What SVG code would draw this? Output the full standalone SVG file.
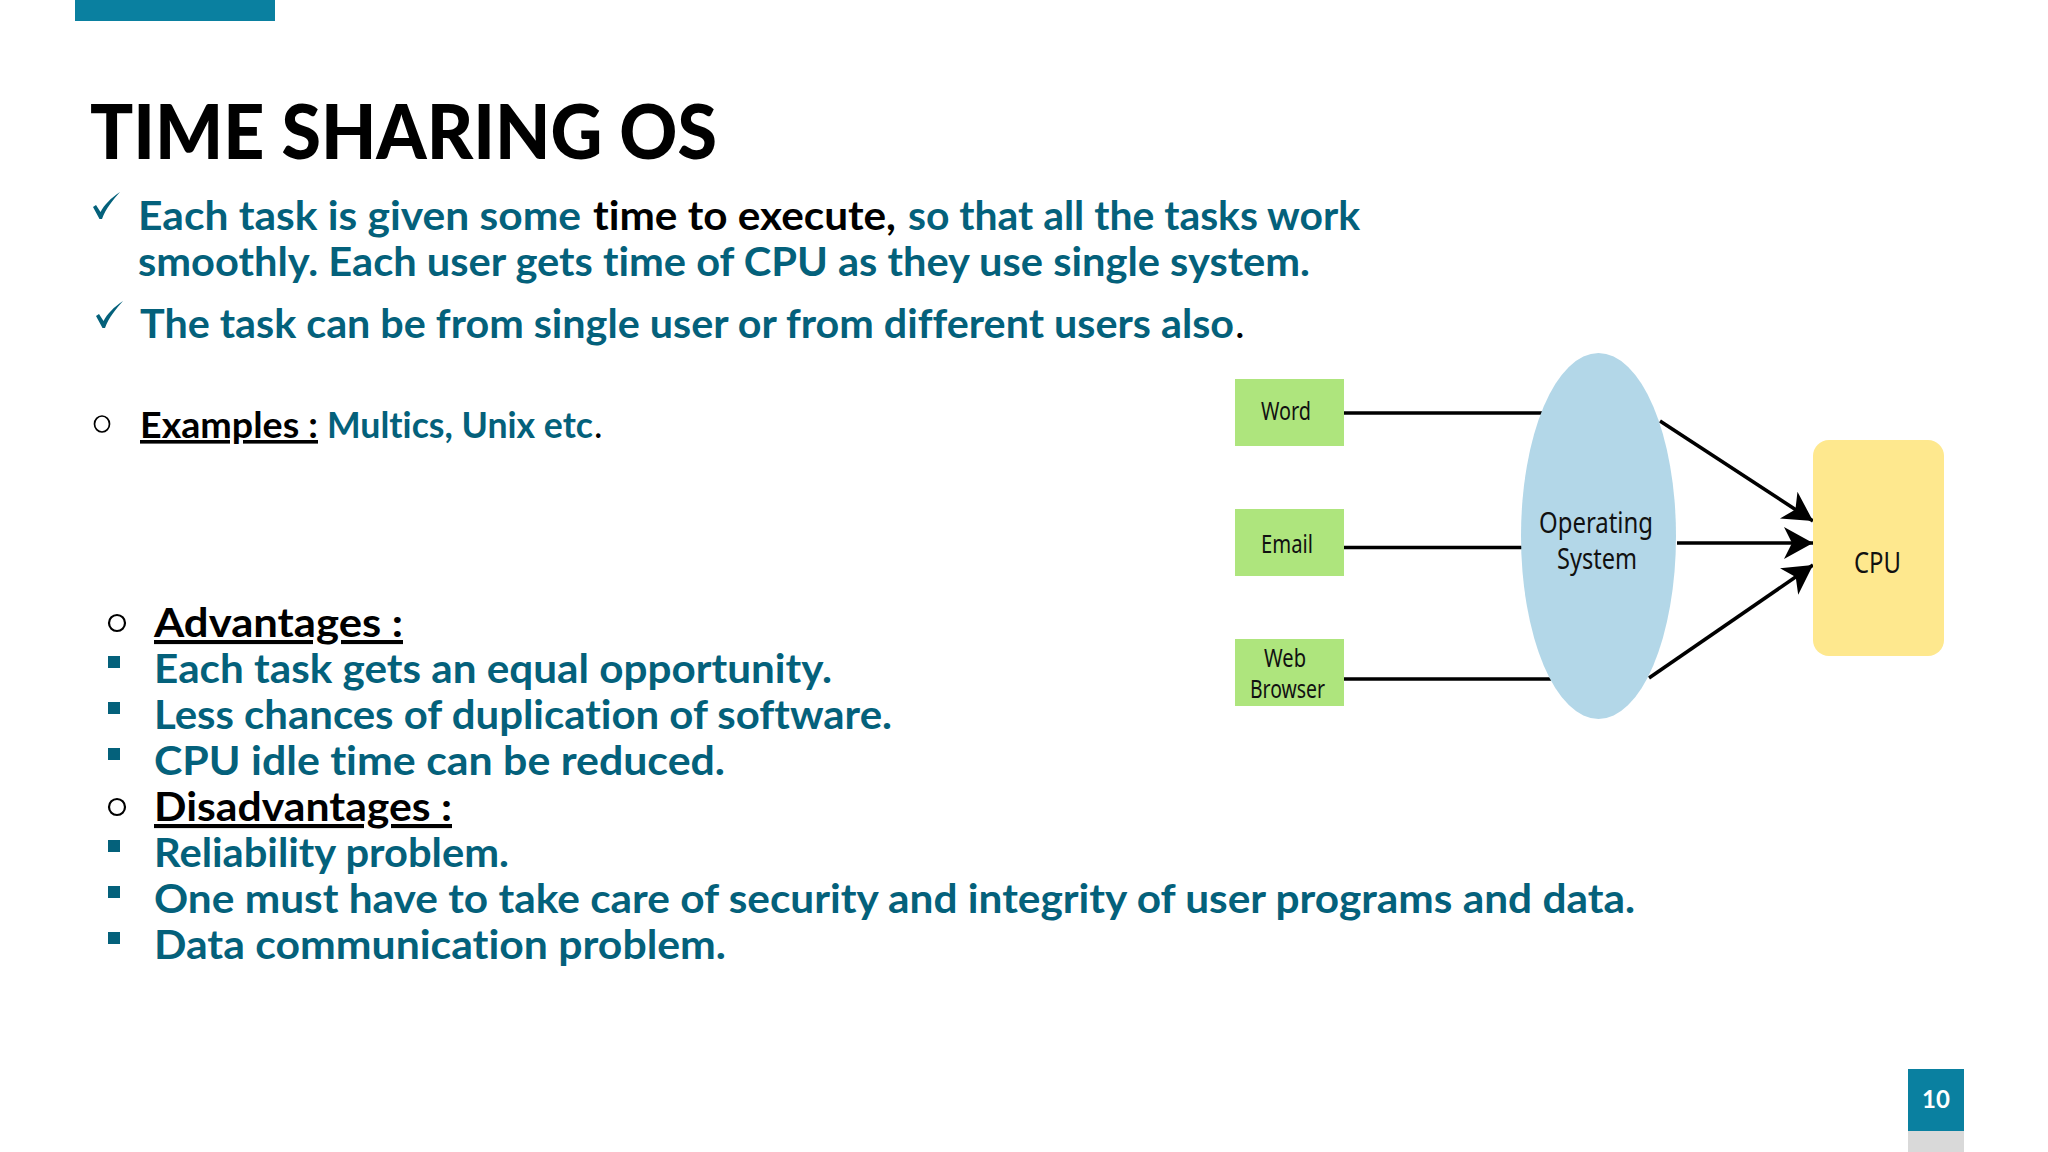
<svg xmlns="http://www.w3.org/2000/svg" width="2048" height="1152" viewBox="0 0 2048 1152">
<style>
text{font-family:"Lato","Liberation Sans",sans-serif;font-weight:700;fill:#04617b;font-variant-ligatures:none}
.k{fill:#000}
.u{text-decoration:underline}
.n{font-weight:400}
.b{font-size:41px}
.e{font-size:36px}
.d{font-family:"Noto Sans","Liberation Sans",sans-serif;font-weight:400;fill:#111;font-size:25px}
.l{font-size:29px}
.sq{fill:#04617b}
.ring{fill:none;stroke:#000;stroke-width:2.2}
.ln{stroke:#000;stroke-width:3.6;fill:none}
.box{fill:#aee57d}
</style>
<defs>
<marker id="ah" markerUnits="userSpaceOnUse" markerWidth="32" markerHeight="36" refX="29" refY="18" orient="auto">
<path d="M29,18 L0,2 L8,18 L0,34 Z" fill="#000"/>
</marker>
<path id="chk" d="M0,14 L3,12 L7.5,19 C11,12 18,5 27,-1 C20,7 13,15 9,26 L6.5,26 Z"/>
</defs>
<rect width="2048" height="1152" fill="#fff"/>
<rect x="75" y="0" width="200" height="21" fill="#0a80a0"/>
<text x="90" y="159" font-size="76" class="k" style="font-weight:900" textLength="627" lengthAdjust="spacingAndGlyphs">TIME SHARING OS</text>

<use href="#chk" x="93" y="193" fill="#04617b"/>
<text class="b" x="138" y="230" textLength="443" lengthAdjust="spacingAndGlyphs">Each task is given some</text>
<text class="b k" x="593" y="230" textLength="303" lengthAdjust="spacingAndGlyphs">time to execute,</text>
<text class="b" x="908" y="230" textLength="452" lengthAdjust="spacingAndGlyphs">so that all the tasks work</text>
<text class="b" x="138" y="276" textLength="1172" lengthAdjust="spacingAndGlyphs">smoothly. Each user gets time of CPU as they use single system.</text>
<use href="#chk" x="96" y="302" fill="#04617b"/>
<text class="b" x="140" y="338" textLength="1094" lengthAdjust="spacingAndGlyphs">The task can be from single user or from different users also</text>
<text class="b k n" x="1235" y="338">.</text>

<ellipse class="ring" style="stroke-width:1.7" cx="102" cy="424" rx="7.5" ry="8"/>
<text class="e k u" x="140" y="438" textLength="178" lengthAdjust="spacingAndGlyphs">Examples :</text>
<text class="e" x="327" y="438" textLength="266" lengthAdjust="spacingAndGlyphs">Multics, Unix etc</text>
<text class="e k n" x="594" y="438">.</text>

<circle class="ring" cx="117" cy="623" r="8"/>
<text class="b k u" x="154" y="637" textLength="249" lengthAdjust="spacingAndGlyphs">Advantages :</text>
<rect class="sq" x="108" y="656" width="12" height="12"/>
<text class="b" x="154" y="683" textLength="678" lengthAdjust="spacingAndGlyphs">Each task gets an equal opportunity.</text>
<rect class="sq" x="108" y="702" width="12" height="12"/>
<text class="b" x="154" y="729" textLength="738" lengthAdjust="spacingAndGlyphs">Less chances of duplication of software.</text>
<rect class="sq" x="108" y="748" width="12" height="12"/>
<text class="b" x="154" y="775" textLength="571" lengthAdjust="spacingAndGlyphs">CPU idle time can be reduced.</text>
<circle class="ring" cx="117" cy="807" r="8"/>
<text class="b k u" x="154" y="821" textLength="298" lengthAdjust="spacingAndGlyphs">Disadvantages :</text>
<rect class="sq" x="108" y="840" width="12" height="12"/>
<text class="b" x="154" y="867" textLength="355" lengthAdjust="spacingAndGlyphs">Reliability problem.</text>
<rect class="sq" x="108" y="886" width="12" height="12"/>
<text class="b" x="154" y="913" textLength="1481" lengthAdjust="spacingAndGlyphs">One must have to take care of security and integrity of user programs and data.</text>
<rect class="sq" x="108" y="932" width="12" height="12"/>
<text class="b" x="154" y="959" textLength="572" lengthAdjust="spacingAndGlyphs">Data communication problem.</text>

<g id="connectors">
<line class="ln" x1="1344" y1="413" x2="1544" y2="413"/>
<line class="ln" x1="1344" y1="547.5" x2="1522" y2="547.5"/>
<line class="ln" x1="1344" y1="679" x2="1551" y2="679"/>
<line class="ln" x1="1660" y1="421" x2="1813" y2="521" marker-end="url(#ah)"/>
<line class="ln" x1="1677" y1="543" x2="1813" y2="543" marker-end="url(#ah)"/>
<line class="ln" x1="1649" y1="678" x2="1813" y2="565" marker-end="url(#ah)"/>
</g>
<g id="word"><rect class="box" x="1235" y="379" width="109" height="67"/><text class="d" x="1261" y="420" textLength="50" lengthAdjust="spacingAndGlyphs">Word</text></g>
<g id="email"><rect class="box" x="1235" y="509" width="109" height="67"/><text class="d" x="1261" y="553" textLength="52" lengthAdjust="spacingAndGlyphs">Email</text></g>
<g id="web-browser"><rect class="box" x="1235" y="639" width="109" height="67"/><text class="d" x="1264" y="667" textLength="42" lengthAdjust="spacingAndGlyphs">Web</text><text class="d" x="1250" y="698" textLength="75" lengthAdjust="spacingAndGlyphs">Browser</text></g>
<g id="os"><ellipse cx="1598.5" cy="536" rx="77.5" ry="183" fill="#b3d7e8"/><text class="d l" x="1539" y="533" textLength="114" lengthAdjust="spacingAndGlyphs">Operating</text><text class="d l" x="1557" y="569" textLength="80" lengthAdjust="spacingAndGlyphs">System</text></g>
<g id="cpu"><rect x="1813" y="440" width="131" height="216" rx="16" fill="#fee88e"/><text class="d l" x="1854" y="573" textLength="47" lengthAdjust="spacingAndGlyphs">CPU</text></g>

<rect x="1908" y="1069" width="56" height="62" fill="#0a80a0"/>
<rect x="1908" y="1131" width="56" height="21" fill="#d9d9d9"/>
<text x="1936" y="1108" font-size="24" text-anchor="middle" style="fill:#fff">10</text>
</svg>
